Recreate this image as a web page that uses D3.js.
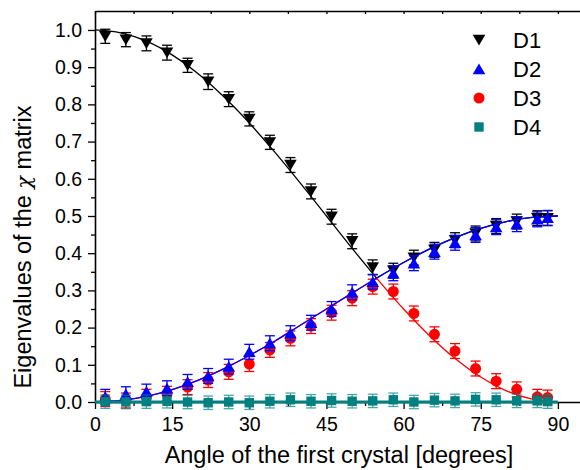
<!DOCTYPE html>
<html>
<head>
<meta charset="utf-8">
<script src="https://cdn.jsdelivr.net/npm/d3@7"></script>
<style>
  body { margin: 0; background: #fff; }
  svg { display: block; font-family: "Liberation Sans", Arial, sans-serif; }
</style>
</head>
<body>
<svg id="chart"></svg>
<script>
// measured angles (deg)
const angles = [2, 6, 10, 14, 18, 22, 26, 30, 34, 38, 42, 46, 50, 54, 58, 62, 66, 70, 74, 78, 82, 86, 88];

const d1 = [0.983, 0.974, 0.964, 0.939, 0.905, 0.861, 0.814, 0.761, 0.698, 0.637, 0.566, 0.498, 0.432, 0.362, 0.353, 0.388, 0.409, 0.435, 0.453, 0.473, 0.485, 0.494, 0.494];
const d2 = [0.014, 0.021, 0.028, 0.037, 0.054, 0.070, 0.095, 0.135, 0.158, 0.185, 0.213, 0.250, 0.295, 0.323, 0.346, 0.373, 0.404, 0.428, 0.449, 0.470, 0.478, 0.491, 0.495];
const d3v = [0.008, 0.004, 0.014, 0.022, 0.040, 0.059, 0.081, 0.102, 0.140, 0.171, 0.204, 0.240, 0.279, 0.310, 0.297, 0.238, 0.182, 0.137, 0.090, 0.056, 0.034, 0.014, 0.012];
const d4 = [0.001, 0.000, 0.001, 0.002, 0.000, -0.002, 0.000, -0.002, 0.002, 0.006, 0.002, 0.004, 0.002, 0.003, 0.006, 0.000, 0.005, 0.003, 0.007, 0.006, 0.003, 0.003, 0.001];

// error bar half-widths
const err1 = [0.019, 0.019, 0.020, 0.020, 0.019, 0.021, 0.020, 0.019, 0.019, 0.020, 0.020, 0.020, 0.020, 0.020, 0.020, 0.020, 0.020, 0.020, 0.020, 0.020, 0.020, 0.020, 0.020];
const err2 = [0.020, 0.020, 0.020, 0.020, 0.020, 0.020, 0.020, 0.020, 0.020, 0.020, 0.020, 0.020, 0.020, 0.020, 0.020, 0.020, 0.020, 0.020, 0.020, 0.020, 0.020, 0.020, 0.020];
const err3 = [0.020, 0.020, 0.020, 0.020, 0.020, 0.020, 0.020, 0.020, 0.020, 0.020, 0.020, 0.020, 0.020, 0.020, 0.020, 0.020, 0.020, 0.020, 0.020, 0.020, 0.020, 0.020, 0.020];
const err4 = [0.018, 0.018, 0.018, 0.018, 0.018, 0.018, 0.018, 0.018, 0.018, 0.018, 0.018, 0.018, 0.018, 0.018, 0.018, 0.018, 0.018, 0.018, 0.018, 0.018, 0.018, 0.018, 0.018];

// fitted curves (crossing near 54.7 deg)
const fitAngles = [0, 5, 10, 15, 20, 25, 30, 35, 40, 45, 50, 54.74, 60, 65, 70, 75, 80, 85, 90];
const fit1 = [1.0, 0.992, 0.970, 0.933, 0.883, 0.821, 0.750, 0.671, 0.587, 0.500, 0.413, 0.333, 0.375, 0.411, 0.442, 0.467, 0.485, 0.496, 0.500];
const fit2 = [0.0, 0.004, 0.015, 0.033, 0.058, 0.089, 0.125, 0.164, 0.207, 0.250, 0.293, 0.333, 0.375, 0.411, 0.442, 0.467, 0.485, 0.496, 0.500];
const fit3 = [0.0, 0.004, 0.015, 0.033, 0.058, 0.089, 0.125, 0.164, 0.207, 0.250, 0.293, 0.333, 0.250, 0.179, 0.117, 0.067, 0.030, 0.008, 0.0];
const fit4 = [0, 0, 0, 0, 0, 0, 0, 0, 0, 0, 0, 0, 0, 0, 0, 0, 0, 0, 0];
const crossIdx = 11;

const seriesNames = ["D1", "D2", "D3", "D4"];
const colors = ["#000000", "#0000ff", "#ff0000", "#008080"];

const xTicks = [0, 15, 30, 45, 60, 75, 90];
const xMinor = [7.5, 22.5, 37.5, 52.5, 67.5, 82.5];
const yTicks = [0, 0.1, 0.2, 0.3, 0.4, 0.5, 0.6, 0.7, 0.8, 0.9, 1.0];
const yMinor = [0.05, 0.15, 0.25, 0.35, 0.45, 0.55, 0.65, 0.75, 0.85, 0.95];

const width = 580, height = 470;
const svg = d3.select("#chart").attr("width", width).attr("height", height);

const x = d3.scaleLinear().domain([0, 94.3]).range([95, 580]);
const y = d3.scaleLinear().domain([0, 1.051]).range([402, 11]);

// axes
const fmtY = d3.format(".1f");
svg.append("g").attr("transform", "translate(95,0)")
    .call(d3.axisLeft(y).tickValues(yMinor).tickSize(4).tickSizeOuter(0).tickFormat(""))
    .call(g => g.select(".domain").remove());
const yAx = svg.append("g").attr("transform", "translate(95,0)")
    .call(d3.axisLeft(y).tickValues(yTicks).tickSize(7).tickSizeOuter(0).tickPadding(6).tickFormat(fmtY));
yAx.selectAll("text").attr("font-size", 19.5).attr("font-family", "Liberation Sans, Arial, sans-serif").attr("fill", "#000");

svg.append("g").attr("transform", "translate(0,402)")
    .call(d3.axisBottom(x).tickValues(xMinor).tickSize(4).tickSizeOuter(0).tickFormat(""))
    .call(g => g.select(".domain").remove());
const xAx = svg.append("g").attr("transform", "translate(0,402)")
    .call(d3.axisBottom(x).tickValues(xTicks).tickSize(7).tickSizeOuter(0).tickPadding(8));
xAx.selectAll("text").attr("font-size", 19.5).attr("font-family", "Liberation Sans, Arial, sans-serif").attr("fill", "#000");

// top axis, inward ticks
svg.append("g").attr("transform", "translate(0,11)")
    .call(d3.axisBottom(x).tickValues(xTicks.concat(xMinor)).tickSize(3).tickSizeOuter(0).tickFormat(""));

svg.selectAll(".domain").attr("stroke-width", 1.6);
svg.selectAll(".tick line").attr("stroke-width", 1.3);

// axis titles
svg.append("text")
    .attr("x", 339).attr("y", 463)
    .attr("text-anchor", "middle")
    .attr("font-size", 23.5)
    .text("Angle of the first crystal [degrees]");

const yt = svg.append("text")
    .attr("transform", "translate(31,247) rotate(-90)")
    .attr("text-anchor", "middle")
    .attr("font-size", 23.5);
yt.append("tspan").text("Eigenvalues of the ");
yt.append("tspan").attr("font-family", "DejaVu Serif, serif").attr("font-style", "italic").attr("font-size", 21).text("χ");
yt.append("tspan").text(" matrix");

// marker shapes
function marker(sel, i) {
  if (i === 0) sel.append("path").attr("d", "M-6.3,-5.2L6.3,-5.2L0,5.6Z");
  else if (i === 1) sel.append("path").attr("d", "M0,-5.6L6.3,5.2L-6.3,5.2Z");
  else if (i === 2) sel.append("circle").attr("r", 5.5);
  else sel.append("rect").attr("x", -4.7).attr("y", -4.7).attr("width", 9.4).attr("height", 9.4);
}

const values = [d1, d2, d3v, d4];
const errs = [err1, err2, err3, err4];
const fits = [fit1, fit2, fit3, fit4];

const line = d3.line().x(d => x(d[0])).y(d => y(d[1])).curve(d3.curveMonotoneX);

// draw order: D1, D3, D2, D4 (blue sits over red and black)
[0, 2, 1, 3].forEach(s => {
  const vals = values[s];
  const col = colors[s];
  const g = svg.append("g");

  // fit line, drawn in two pieces around the crossing
  const pts = fitAngles.map((a, k) => [a, fits[s][k]]);
  g.append("path").datum(pts.slice(0, crossIdx + 1))
      .attr("d", line).attr("fill", "none").attr("stroke", col)
      .attr("stroke-width", s === 3 ? 3 : 1.3);
  g.append("path").datum(pts.slice(crossIdx))
      .attr("d", line).attr("fill", "none").attr("stroke", col)
      .attr("stroke-width", s === 3 ? 3 : 1.3);

  // error bars
  const eb = g.append("g").attr("stroke", col).attr("stroke-width", 1.3).attr("fill", "none")
      .attr("opacity", s === 3 ? 0.7 : 1);
  angles.forEach((a, k) => {
    const cx = x(a), top = y(vals[k] + errs[s][k]), bot = y(vals[k] - errs[s][k]);
    eb.append("line").attr("x1", cx).attr("x2", cx).attr("y1", top).attr("y2", bot);
    eb.append("line").attr("x1", cx - 5).attr("x2", cx + 5).attr("y1", top).attr("y2", top);
    eb.append("line").attr("x1", cx - 5).attr("x2", cx + 5).attr("y1", bot).attr("y2", bot);
  });

  // markers
  angles.forEach((a, k) => {
    const m = g.append("g").attr("transform", `translate(${x(a)},${y(vals[k])})`).attr("fill", col);
    marker(m, s);
  });
});

// legend
const legY = [40, 69, 98, 127];
seriesNames.forEach((name, i) => {
  const m = svg.append("g").attr("transform", `translate(479,${legY[i]})`).attr("fill", colors[i]);
  marker(m, i);
  svg.append("text").attr("x", 513).attr("y", legY[i] + 8)
      .attr("font-size", 22).text(name);
});
</script>
</body>
</html>
